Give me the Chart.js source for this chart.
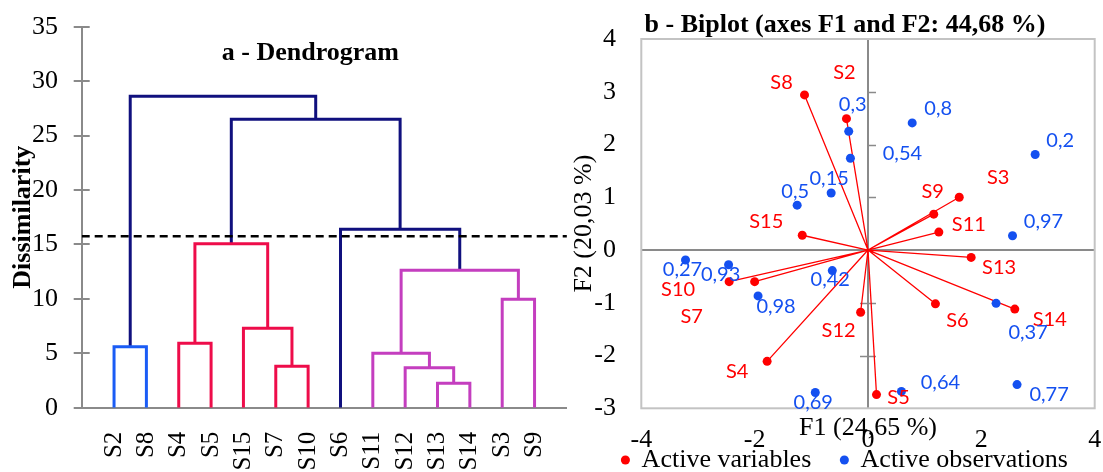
<!DOCTYPE html>
<html>
<head>
<meta charset="utf-8">
<script src="https://cdn.jsdelivr.net/npm/chart.js@4.4.1/dist/chart.umd.min.js"></script>
<style>
  html, body { margin: 0; padding: 0; background: #ffffff; overflow: hidden; }
  #wrap { position: relative; width: 1103px; height: 472px; }
  #wrap canvas { position: absolute; left: 0; top: 0; }
</style>
</head>
<body>
<div id="wrap">
  <canvas id="dendro" width="1103" height="472"></canvas>
  <canvas id="biplot" width="1103" height="472"></canvas>
</div>
<script>
// ---------------- DATA ----------------
// a - Dendrogram
const leaves = ['S2', 'S8', 'S4', 'S5', 'S15', 'S7', 'S10', 'S6', 'S11', 'S12', 'S13', 'S14', 'S3', 'S9'];
// merge k (M1..M13) joins mergeA[k-1] and mergeB[k-1] at mergeHeight[k-1]
const mergeA = ['S2', 'S4', 'S7', 'S15', 'M2', 'S13', 'S12', 'S11', 'S3', 'M8', 'S6', 'M5', 'M1'];
const mergeB = ['S8', 'S5', 'S10', 'M3', 'M4', 'S14', 'M6', 'M7', 'S9', 'M9', 'M10', 'M11', 'M12'];
const mergeHeight = [5.60, 5.92, 3.80, 7.29, 15.07, 2.24, 3.67, 5.00, 9.96, 12.62, 16.39, 26.49, 28.60];
const cutLevel = 15.74;
const dissimTicks = [0, 5, 10, 15, 20, 25, 30, 35];

// b - Biplot
const variables = ['S8', 'S2', 'S9', 'S3', 'S11', 'S15', 'S13', 'S14', 'S6', 'S12', 'S5', 'S4', 'S10', 'S7'];
const varF1 = [-1.12, -0.38, 1.16, 1.61, 1.25, -1.16, 1.82, 2.59, 1.19, -0.13, 0.15, -1.78, -2.45, -2.00];
const varF2 = [2.94, 2.49, 0.68, 1.00, 0.34, 0.28, -0.14, -1.12, -1.02, -1.18, -2.74, -2.11, -0.60, -0.60];
const observations = ['0,3', '0,54', '0,8', '0,2', '0,15', '0,5', '0,97', '0,27', '0,93', '0,42', '0,98', '0,37', '0,77', '0,64', '0,69'];
const obsF1 = [-0.34, -0.31, 0.78, 2.95, -0.65, -1.25, 2.55, -3.22, -2.46, -0.63, -1.94, 2.26, 2.63, 0.59, -0.93];
const obsF2 = [2.25, 1.74, 2.41, 1.81, 1.08, 0.85, 0.27, -0.19, -0.28, -0.39, -0.87, -1.01, -2.55, -2.68, -2.70];
const f1Ticks = [-4, -2, 0, 2, 4];
const f2Ticks = [-3, -2, -1, 0, 1, 2, 3, 4];

// ---------------- STYLE / LAYOUT ----------------
const SERIF = '"Liberation Serif", "Times New Roman", serif';
const SANS = 'Lato, "Open Sans", sans-serif';
const NAVY = '#10107e', RED_CL = '#ee0c4a', MAGENTA = '#c43ebf', BLUE_CL = '#1a5cf5';
const linkColors = [BLUE_CL, RED_CL, RED_CL, RED_CL, RED_CL, MAGENTA, MAGENTA, MAGENTA, MAGENTA, MAGENTA, NAVY, NAVY, NAVY];
const AXIS_GRAY = '#8a8a8a';
const VAR_COLOR = '#ff0000';
const OBS_COLOR = '#1450f0';
const CLEAR = 'rgba(0,0,0,0)';
// label offsets (pixels) relative to each point
const varLabelOffset = [[-23,-12],[-2,-46],[-1,-23],[39,-20],[30,-8],[-36,-14],[28,10],[35,10],[22,17],[-22,18],[22,3],[-30,10],[-51,8],[-63,35]];
const obsLabelOffset = [[4,-27],[52,-5],[26,-14],[25,-14],[-2,-15],[-2,-14],[31,-14],[-3,9],[-8,10],[-2,9],[18,11],[32,29],[32,10],[39,-9],[-2,10]];

function build() {
  Chart.defaults.font.family = SERIF;
  Chart.defaults.color = '#000';

  // ---- dendrogram geometry from data ----
  const pos = {}, hgt = {};
  leaves.forEach((l, i) => { pos[l] = i + 1; hgt[l] = 0; });
  const linkSets = [];
  mergeHeight.forEach((h, k) => {
    const a = mergeA[k], b = mergeB[k];
    const id = 'M' + (k + 1);
    pos[id] = (pos[a] + pos[b]) / 2;
    hgt[id] = h;
    linkSets.push({
      data: [{x: pos[a], y: hgt[a]}, {x: pos[a], y: h}, {x: pos[b], y: h}, {x: pos[b], y: hgt[b]}],
      showLine: true, borderColor: linkColors[k], borderWidth: 3, pointRadius: 0,
      borderJoinStyle: 'miter', tension: 0, fill: false
    });
  });
  const cutSet = {
    data: [{x: 0, y: cutLevel}, {x: leaves.length + 1, y: cutLevel}],
    showLine: true, borderColor: '#000', borderWidth: 2.5, borderDash: [8, 5], pointRadius: 0
  };

  const crossTicks = {
    id: 'crossTicks',
    beforeDatasetsDraw(chart) {
      const {ctx} = chart, y = chart.scales.y, x0 = chart.chartArea.left;
      ctx.save();
      ctx.strokeStyle = AXIS_GRAY; ctx.lineWidth = 2;
      y.ticks.forEach(t => {
        const py = Math.round(y.getPixelForValue(t.value));
        ctx.beginPath(); ctx.moveTo(x0 - 8, py); ctx.lineTo(x0 + 8, py); ctx.stroke();
      });
      ctx.restore();
    }
  };

  new Chart(document.getElementById('dendro'), {
    type: 'scatter',
    data: { datasets: [cutSet, ...linkSets] },
    options: {
      responsive: false, animation: false, devicePixelRatio: 1,
      layout: { padding: { left: 0, right: 482.1, top: 0, bottom: 0 } },
      plugins: {
        legend: { display: false }, tooltip: { enabled: false },
        title: { display: true, text: 'a - Dendrogram', color: '#000',
                 font: { family: SERIF, size: 26, weight: 'bold' }, padding: { top: 37.4, bottom: -41.9 } }
      },
      scales: {
        x: {
          type: 'linear', min: 0, max: leaves.length + 1,
          afterBuildTicks: s => { s.ticks = leaves.map((_, i) => ({ value: i + 1 })); },
          ticks: { callback: (v, i) => leaves[i], autoSkip: false, minRotation: 90, maxRotation: 90,
                   padding: 24, color: '#000', font: { size: 25 } },
          grid: { display: false, drawTicks: false },
          border: { display: true, color: AXIS_GRAY, width: 2 },
          afterFit: s => { s.height = 64.3; }
        },
        y: {
          min: 0, max: 35,
          afterBuildTicks: s => { s.ticks = dissimTicks.map(v => ({ value: v })); },
          ticks: { padding: 3.7, color: '#000', font: { size: 26 } },
          grid: { display: true, drawOnChartArea: false, drawTicks: true, tickLength: 20, tickColor: CLEAR, color: CLEAR },
          border: { display: true, color: AXIS_GRAY, width: 2 },
          title: { display: true, text: 'Dissimilarity', color: '#000',
                   font: { size: 26, weight: 'bold' }, padding: { top: 7.4, bottom: 0 } },
          afterFit: s => { s.width = 81.7; }
        },
        yR: {
          position: 'right', min: 0, max: 35, display: true,
          ticks: { display: false }, grid: { display: false, drawTicks: false }, border: { display: false },
          afterFit: s => { s.width = 54; }
        }
      }
    },
    plugins: [crossTicks]
  });

  // ---- biplot ----
  const vectorData = [];
  varF1.forEach((v, i) => {
    vectorData.push({x: 0, y: 0}, {x: v, y: varF2[i]}, {x: NaN, y: NaN});
  });

  const boxAndAxis = {
    id: 'boxAndAxis',
    beforeDatasetsDraw(chart) {
      const {ctx, chartArea: a} = chart;
      const xs = chart.scales.x, ys = chart.scales.y;
      ctx.save();
      ctx.strokeStyle = '#c3c3c3'; ctx.lineWidth = 2;
      ctx.strokeRect(a.left, a.top, a.right - a.left, a.bottom - a.top);
      const x0 = xs.getPixelForValue(0);
      ctx.strokeStyle = AXIS_GRAY; ctx.lineWidth = 1.5;
      f2Ticks.forEach(v => {
        if (v === 0 || v === ys.min || v === ys.max) return;
        const py = Math.round(ys.getPixelForValue(v)) + 0.5;
        ctx.beginPath(); ctx.moveTo(x0 - (v < 0 ? 8 : 0), py); ctx.lineTo(x0 + 8, py); ctx.stroke();
      });
      ctx.restore();
    }
  };

  const pointLabels = {
    id: 'pointLabels',
    afterDatasetsDraw(chart) {
      const {ctx} = chart;
      ctx.save();
      ctx.font = '20px ' + SANS;
      ctx.textAlign = 'center'; ctx.textBaseline = 'middle';
      [[0, variables, varLabelOffset, VAR_COLOR], [1, observations, obsLabelOffset, OBS_COLOR]].forEach(([di, names, offs, col]) => {
        const meta = chart.getDatasetMeta(di);
        ctx.fillStyle = col;
        meta.data.forEach((el, i) => {
          ctx.fillText(names[i], el.x + offs[i][0], el.y + offs[i][1]);
        });
      });
      ctx.restore();
    }
  };

  const zeroGrid = c => (c.tick && c.tick.value === 0) ? AXIS_GRAY : CLEAR;

  new Chart(document.getElementById('biplot'), {
    type: 'scatter',
    data: {
      datasets: [
        { label: 'Active variables', data: varF1.map((v, i) => ({ x: v, y: varF2[i] })),
          backgroundColor: VAR_COLOR, borderColor: VAR_COLOR, borderWidth: 0,
          pointRadius: 4.5, pointStyle: 'circle', order: 1 },
        { label: 'Active observations', data: obsF1.map((v, i) => ({ x: v, y: obsF2[i] })),
          backgroundColor: OBS_COLOR, borderColor: OBS_COLOR, borderWidth: 0,
          pointRadius: 4.5, pointStyle: 'circle', order: 2 },
        { label: 'vectors', data: vectorData, showLine: true, spanGaps: false,
          borderColor: VAR_COLOR, borderWidth: 1.3, pointRadius: 0, order: 3 }
      ]
    },
    options: {
      responsive: false, animation: false, devicePixelRatio: 1,
      layout: { padding: { left: 585, right: -2, top: 0, bottom: -11 } },
      plugins: {
        tooltip: { enabled: false },
        title: { display: true, text: 'b - Biplot (axes F1 and F2: 44,68 %)', color: '#000',
                 font: { family: SERIF, size: 26, weight: 'bold' }, padding: { top: 9.4, bottom: -1.6 } },
        legend: {
          display: true, position: 'bottom',
          labels: { usePointStyle: true, boxWidth: 6.4, boxHeight: 6.4, padding: 29.9, color: '#000',
                    font: { family: SERIF, size: 26 }, filter: item => item.datasetIndex < 2 }
        }
      },
      scales: {
        x: {
          type: 'linear', min: -4, max: 4,
          afterBuildTicks: s => { s.ticks = f1Ticks.map(v => ({ value: v })); },
          ticks: { mirror: true, padding: -47.3, color: '#000', font: { size: 26 } },
          grid: { drawTicks: false, color: zeroGrid, lineWidth: 2 },
          border: { display: false },
          title: { display: true, text: 'F1 (24,65 %)', color: '#000', font: { size: 26 },
                   padding: { top: 0, bottom: -26.5 } },
          afterFit: s => { s.height = 8.8; }
        },
        y: {
          min: -3, max: 4,
          afterBuildTicks: s => { s.ticks = f2Ticks.map(v => ({ value: v })); },
          ticks: { padding: 3.3, color: '#000', font: { size: 26 } },
          grid: { drawTicks: true, tickLength: 22, tickColor: CLEAR, color: zeroGrid, lineWidth: 2 },
          border: { display: false },
          title: { display: true, text: 'F2 (20,03 %)', color: '#000', font: { size: 26 },
                   padding: { top: -16.6, bottom: 0 } },
          afterFit: s => { s.width = 56.3; }
        },
        yR: {
          position: 'right', min: -3, max: 4, display: true,
          ticks: { display: false }, grid: { display: false, drawTicks: false }, border: { display: false },
          afterFit: s => { s.width = 10.3; }
        }
      }
    },
    plugins: [boxAndAxis, pointLabels]
  });
}

Promise.all([
  document.fonts.load('20px Lato'),
  document.fonts.load('26px "Liberation Serif"'),
  document.fonts.load('bold 26px "Liberation Serif"')
]).catch(() => {}).then(build);
</script>
</body>
</html>
